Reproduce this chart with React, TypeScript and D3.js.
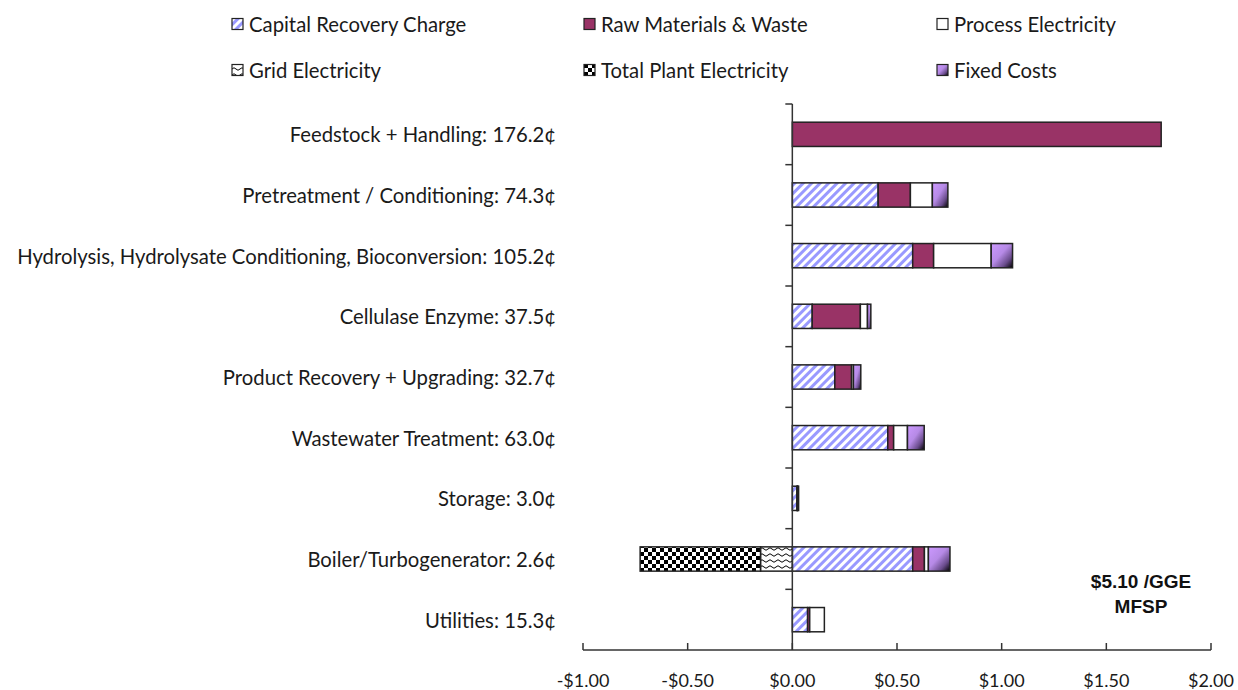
import React from "react";
import * as d3 from "d3";

const categories = [
  "Feedstock + Handling: 176.2¢",
  "Pretreatment / Conditioning: 74.3¢",
  "Hydrolysis, Hydrolysate Conditioning, Bioconversion: 105.2¢",
  "Cellulase Enzyme: 37.5¢",
  "Product Recovery + Upgrading: 32.7¢",
  "Wastewater Treatment: 63.0¢",
  "Storage: 3.0¢",
  "Boiler/Turbogenerator: 2.6¢",
  "Utilities: 15.3¢",
];

const capitalRecovery = [0, 0.41, 0.575, 0.095, 0.203, 0.456, 0.022, 0.575, 0.073];
const rawMaterials = [1.762, 0.154, 0.1, 0.23, 0.08, 0.028, 0.002, 0.056, 0.01];
const processElectricity = [0, 0.105, 0.275, 0.034, 0.009, 0.066, 0.002, 0.019, 0.07];
const gridElectricity = [0, 0, 0, 0, 0, 0, 0, -0.152, 0];
const totalPlantElectricity = [0, 0, 0, 0, 0, 0, 0, -0.575, 0];
const fixedCosts = [0, 0.074, 0.102, 0.016, 0.035, 0.08, 0.004, 0.103, 0];

const xTicks = [-1, -0.5, 0, 0.5, 1, 1.5, 2];

const seriesKeys = ["capital", "raw", "process", "grid", "plant", "fixed"];
const seriesLabels: Record<string, string> = {
  capital: "Capital Recovery Charge",
  raw: "Raw Materials & Waste",
  process: "Process Electricity",
  grid: "Grid Electricity",
  plant: "Total Plant Electricity",
  fixed: "Fixed Costs",
};
const seriesFill: Record<string, string> = {
  capital: "url(#pStripe)",
  raw: "#993366",
  process: "#ffffff",
  grid: "url(#pWave)",
  plant: "url(#pChecker)",
  fixed: "url(#gFixed)",
};

const rows = categories.map((c, i) => ({
  cat: c,
  capital: capitalRecovery[i],
  raw: rawMaterials[i],
  process: processElectricity[i],
  grid: gridElectricity[i],
  plant: totalPlantElectricity[i],
  fixed: fixedCosts[i],
}));

const FONT = "Lato, 'Noto Sans', sans-serif";
const LABEL_SIZE = 20.3;

export default function App() {
  const x = d3.scaleLinear().domain([-1, 2]).range([583, 1211]);
  const y = d3
    .scaleBand<string>()
    .domain(categories)
    .range([104, 650])
    .paddingInner(0.6)
    .paddingOuter(0.3);
  const stacked = d3
    .stack<any>()
    .keys(seriesKeys)
    .offset(d3.stackOffsetDiverging)(rows);

  const x0 = x(0);
  const step = y.step();
  const fmt = (v: number) => (v < 0 ? "-$" : "$") + Math.abs(v).toFixed(2);

  const legendPos: Record<string, [number, number]> = {
    capital: [232, 24],
    raw: [584, 24],
    process: [937, 24],
    grid: [232, 70],
    plant: [584, 70],
    fixed: [937, 70],
  };

  return (
    <svg
      width={1238}
      height={690}
      style={{ position: "absolute", left: 0, top: 0, background: "#fff" }}
    >
      <defs>
        <pattern
          id="pStripe"
          width={6}
          height={6}
          patternUnits="userSpaceOnUse"
          patternTransform="rotate(45)"
        >
          <rect width={6} height={6} fill="#ffffff" />
          <rect width={3} height={6} fill="#9999ff" />
        </pattern>
        <pattern id="pWave" width={8} height={6} patternUnits="userSpaceOnUse">
          <rect width={8} height={6} fill="#ffffff" />
          <path d="M0 3 Q2 0.5 4 3 T8 3" fill="none" stroke="#000" strokeWidth={1} />
        </pattern>
        <pattern id="pChecker" width={8} height={8} patternUnits="userSpaceOnUse">
          <rect width={8} height={8} fill="#ffffff" />
          <rect width={4} height={4} fill="#000" />
          <rect x={4} y={4} width={4} height={4} fill="#000" />
        </pattern>
        <linearGradient id="gFixed" x1="0" y1="0" x2="1" y2="1">
          <stop offset="0" stopColor="#cc99ff" />
          <stop offset="0.45" stopColor="#b68ae6" />
          <stop offset="0.75" stopColor="#6a4c8c" />
          <stop offset="1" stopColor="#000000" />
        </linearGradient>
      </defs>

      {/* Legend */}
      {seriesKeys.map((k) => {
        const [lx, ly] = legendPos[k];
        return (
          <g key={k}>
            <rect
              x={lx}
              y={ly - 5.5}
              width={11}
              height={11}
              fill={seriesFill[k]}
              stroke="#222"
              strokeWidth={1.2}
            />
            <text
              x={lx + 17}
              y={ly}
              dominantBaseline="central"
              fontFamily={FONT}
              fontSize={LABEL_SIZE}
              fill="#1a1a1a"
            >
              {seriesLabels[k]}
            </text>
          </g>
        );
      })}

      {/* Bars */}
      {stacked.map((s) => (
        <g key={s.key}>
          {s.map((d, i) => {
            const w = Math.abs(x(d[1]) - x(d[0]));
            if (w < 0.01) return null;
            return (
              <rect
                key={i}
                x={Math.min(x(d[0]), x(d[1]))}
                y={y(categories[i])!}
                width={w}
                height={y.bandwidth()}
                fill={seriesFill[s.key]}
                stroke="#222"
                strokeWidth={1.5}
              />
            );
          })}
        </g>
      ))}

      {/* Y axis */}
      <line x1={x0} x2={x0} y1={104} y2={650} stroke="#333" strokeWidth={1.5} />
      {d3.range(categories.length).map((i) => (
        <line
          key={i}
          x1={x0 - 7}
          x2={x0}
          y1={104 + i * step}
          y2={104 + i * step}
          stroke="#333"
          strokeWidth={1.5}
        />
      ))}
      {categories.map((c) => (
        <text
          key={c}
          x={556}
          y={y(c)! + y.bandwidth() / 2}
          textAnchor="end"
          dominantBaseline="central"
          fontFamily={FONT}
          fontSize={LABEL_SIZE}
          fill="#1a1a1a"
        >
          {c}
        </text>
      ))}

      {/* X axis */}
      <line x1={583} x2={1211} y1={650} y2={650} stroke="#333" strokeWidth={1.5} />
      {xTicks.map((t) => (
        <g key={t}>
          <line x1={x(t)} x2={x(t)} y1={643} y2={650} stroke="#333" strokeWidth={1.5} />
          <text
            x={x(t)}
            y={680}
            textAnchor="middle"
            dominantBaseline="central"
            fontFamily={FONT}
            fontSize={18}
            fill="#1a1a1a"
          >
            {fmt(t)}
          </text>
        </g>
      ))}

      {/* MFSP annotation */}
      <text
        x={1141}
        y={581}
        textAnchor="middle"
        dominantBaseline="central"
        fontFamily="'Liberation Sans', Arial, sans-serif"
        fontWeight="bold"
        fontSize={19}
        fill="#111"
      >
        $5.10 /GGE
      </text>
      <text
        x={1141}
        y={606}
        textAnchor="middle"
        dominantBaseline="central"
        fontFamily="'Liberation Sans', Arial, sans-serif"
        fontWeight="bold"
        fontSize={19}
        fill="#111"
      >
        MFSP
      </text>
    </svg>
  );
}
